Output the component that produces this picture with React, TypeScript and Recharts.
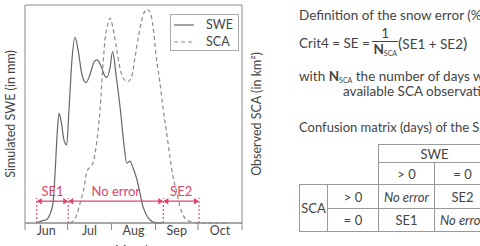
import React from 'react';
import { ComposedChart, Line, XAxis, YAxis, ReferenceLine, ReferenceArea, Legend } from 'recharts';

// ---- data (x = day since 1 June, y = relative value 0..100) ----
const sweDays = [8.3, 12, 15.3, 17.6, 19.7, 21.2, 22.6, 24, 25.4, 27.5, 29.4, 31, 33.1, 35.3, 37.4, 40.2, 43, 45.8, 48.7, 50.8, 53.6, 56.4, 57.8, 59.9, 61.8, 64.2, 67, 69.8, 71.7, 74, 76.2, 79, 83.2, 86, 88.2, 91.7, 97.3];
const sweValues = [0, 1, 1.6, 4, 9, 22.8, 40, 50.3, 47, 38, 35.8, 51.8, 74.8, 85.2, 79.4, 68, 64.4, 68, 73.9, 74.8, 72, 67.4, 66.8, 71, 78.6, 67.9, 53.3, 35.8, 27.4, 28.4, 25.2, 19.7, 7.5, 3.2, 1.4, 0.2, 0];
const scaDays = [32, 36, 38.8, 41.6, 43.5, 45.8, 48, 50, 52.9, 55, 56.4, 58.5, 60, 62, 64.7, 67, 69.1, 72.6, 75.5, 77.6, 80.2, 82.3, 85.8, 88.2, 90.3, 92.4, 95.2, 97.5, 99.9, 102.3, 104.4, 107, 109.3, 111.4, 114, 117.8, 123.4, 144.6];
const scaValues = [0, 3, 9, 16, 23.4, 25.7, 27.5, 34.4, 51.8, 72.5, 84, 91.3, 94, 89.4, 79.4, 71, 66.5, 64.8, 67.9, 76, 86.2, 93, 98, 96.8, 90, 77, 64, 51.8, 41.3, 29.8, 21, 14.2, 7.5, 3.7, 1.4, 0.5, 0.1, 0];

const monthNames = ['Jun', 'Jul', 'Aug', 'Sep', 'Oct'];
const monthStarts = [0, 30, 61, 92, 122, 153];
const monthMids = [15, 45.5, 76.5, 107, 137.5];

const errorBounds = [8.3, 30.5, 97.5, 122.7];
const errorLabels = ['SE1', 'No error', 'SE2'];
const arrowLevel = 10;
const markerTop = 11.5;
const tickDepth = -3.2;

const seriesOrder = ['SWE', 'SCA'];

const sweData = sweDays.map((d, i) => ({ day: d, swe: sweValues[i] }));
const scaData = scaDays.map((d, i) => ({ day: d, sca: scaValues[i] }));

const RED = '#d9486a';
const AXIS = '#8a8a8a';
const TEXT = '#444';
const FONT = 'Lato, "Open Sans", sans-serif';

const makeArrow = (label: string) => (props: any) => {
  const { x1, y1, x2, y2 } = props;
  const h = 3.2;
  const l = 5;
  return (
    <g>
      <line x1={x1 + 1} y1={y1} x2={x2 - 1} y2={y2} stroke={RED} strokeWidth={1.3} />
      <path d={`M${x1},${y1} L${x1 + l},${y1 - h} L${x1 + l},${y1 + h} Z`} fill={RED} />
      <path d={`M${x2},${y2} L${x2 - l},${y2 - h} L${x2 - l},${y2 + h} Z`} fill={RED} />
      <text x={(x1 + x2) / 2} y={y1 - 5} textAnchor="middle" fill={RED} fontSize={13} fontFamily={FONT}>
        {label}
      </text>
    </g>
  );
};

const renderLegend = (props: any) => {
  const payload = [...(props.payload || [])].sort(
    (a: any, b: any) => seriesOrder.indexOf(a.value) - seriesOrder.indexOf(b.value)
  );
  return (
    <div style={{ border: '1px solid #aaa', background: '#fff', padding: '1px 0 1px 3px', boxSizing: 'border-box', width: 69, height: 37 }}>
      {payload.map((entry: any) => (
        <div key={entry.value} style={{ display: 'flex', alignItems: 'center', height: 17 }}>
          <svg width={20} height={8}>
            <line x1={0} y1={4} x2={20} y2={4} stroke={entry.color} strokeWidth={1.2} strokeDasharray={entry.payload?.strokeDasharray} />
          </svg>
          <span style={{ marginLeft: 12, fontSize: 12.5, color: TEXT, fontFamily: FONT }}>{entry.value}</span>
        </div>
      ))}
    </div>
  );
};

const txt: React.CSSProperties = { position: 'absolute', fontFamily: FONT, fontSize: 13.5, color: TEXT, whiteSpace: 'nowrap', lineHeight: '16px' };

const cell: React.CSSProperties = { border: '1px solid #999', textAlign: 'center', padding: 0, fontSize: 13, color: TEXT, fontFamily: FONT, lineHeight: '14px' };

const colWidths = [28, 51, 56, 56];
const rowHeights = [18, 22, 24, 23];

const Sub = () => <span style={{ fontSize: 7, fontWeight: 'normal', position: 'relative', top: 2 }}>SCA</span>;

export default function App() {
  return (
    <div style={{ position: 'absolute', left: 0, top: 0, width: 480, height: 246, overflow: 'hidden', background: '#fff' }}>
      <div style={{ position: 'absolute', left: 0, top: 0 }}>
        <ComposedChart width={270} height={246} margin={{ top: 5, right: 0, bottom: 0, left: 0 }}>
          <XAxis
            type="number"
            dataKey="day"
            domain={[0, 153]}
            ticks={monthMids}
            tickFormatter={(v: number) => monthNames[monthMids.indexOf(v)]}
            height={23}
            stroke={AXIS}
            tickLine={false}
            tickSize={0}
            tickMargin={3}
            tick={{ fontSize: 12.5, fill: TEXT, fontFamily: FONT }}
            label={{ value: 'Month', position: 'insideBottom', offset: -9, fontSize: 12.5, fill: TEXT, fontFamily: FONT }}
          />
          <YAxis
            yAxisId="swe"
            domain={[0, 100]}
            width={25}
            tick={false}
            tickLine={false}
            axisLine={false}
            label={{ value: 'Simulated SWE (in mm)', angle: -90, position: 'center', dx: -2, fontSize: 12.5, fill: TEXT, fontFamily: FONT }}
          />
          <YAxis
            yAxisId="sca"
            orientation="right"
            domain={[0, 100]}
            width={28}
            tick={false}
            tickLine={false}
            axisLine={false}
            label={{ value: 'Observed SCA (in km²)', angle: -90, position: 'center', dx: 1, fontSize: 12.5, fill: TEXT, fontFamily: FONT }}
          />
          <Legend
            layout="vertical"
            align="center"
            verticalAlign="middle"
            content={renderLegend}
            wrapperStyle={{ position: 'absolute', left: 170, top: 14, width: 69, height: 37 }}
          />
          <ReferenceArea yAxisId="swe" x1={0} x2={153} y1={0} y2={100} fill="none" fillOpacity={0} stroke={AXIS} strokeWidth={1} />
          {monthStarts.map((m) => (
            <ReferenceLine
              key={`t${m}`}
              yAxisId="swe"
              segment={[{ x: m, y: 0 }, { x: m, y: tickDepth }]}
              stroke={AXIS}
              strokeWidth={1}
              ifOverflow="visible"
            />
          ))}
          <Line
            yAxisId="swe"
            data={sweData}
            dataKey="swe"
            name="SWE"
            type="monotone"
            stroke="#666"
            strokeWidth={1.2}
            dot={false}
            legendType="plainline"
            isAnimationActive={false}
          />
          <Line
            yAxisId="sca"
            data={scaData}
            dataKey="sca"
            name="SCA"
            type="monotone"
            stroke="#8a8a8a"
            strokeWidth={1.2}
            strokeDasharray="4 3"
            dot={false}
            legendType="plainline"
            isAnimationActive={false}
          />
          {errorBounds.map((b) => (
            <ReferenceLine
              key={`v${b}`}
              yAxisId="swe"
              segment={[{ x: b, y: 0 }, { x: b, y: markerTop }]}
              stroke={RED}
              strokeWidth={1.1}
              strokeDasharray="2 2"
            />
          ))}
          {errorLabels.map((lab, i) => (
            <ReferenceLine
              key={lab}
              yAxisId="swe"
              segment={[{ x: errorBounds[i], y: arrowLevel }, { x: errorBounds[i + 1], y: arrowLevel }]}
              shape={makeArrow(lab)}
            />
          ))}
        </ComposedChart>
      </div>

      <div style={{ ...txt, left: 299, top: 7 }}>Definition of the snow error (%)</div>

      <div style={{ position: 'absolute', left: 299, top: 26, display: 'flex', alignItems: 'center', fontFamily: FONT, fontSize: 13.5, color: TEXT, whiteSpace: 'nowrap' }}>
        <span>Crit4 = SE =&nbsp;</span>
        <span style={{ display: 'inline-flex', flexDirection: 'column', alignItems: 'center' }}>
          <span style={{ lineHeight: '15px', borderBottom: '1px solid #444', padding: '0 1px', width: '100%', textAlign: 'center' }}>1</span>
          <span style={{ lineHeight: '15px' }}>
            <b>N</b>
            <Sub />
          </span>
        </span>
        <span style={{ marginLeft: 1 }}>
          <span style={{ fontSize: 16 }}>(</span>SE1 + SE2<span style={{ fontSize: 16 }}>)</span>
        </span>
      </div>

      <div style={{ ...txt, left: 299, top: 68 }}>
        with <b>N</b>
        <Sub /> the number of days with
      </div>
      <div style={{ ...txt, left: 343, top: 83 }}>available SCA observations</div>

      <div style={{ ...txt, fontSize: 13, left: 299, top: 119 }}>Confusion matrix (days) of the SE</div>

      <table
        style={{ position: 'absolute', left: 299, top: 144, borderCollapse: 'collapse', tableLayout: 'fixed', width: colWidths.reduce((a, b) => a + b, 0) }}
      >
        <colgroup>
          {colWidths.map((w, i) => (
            <col key={i} style={{ width: w }} />
          ))}
        </colgroup>
        <tbody>
          <tr style={{ height: rowHeights[0] }}>
            <td colSpan={2} rowSpan={2} style={{ border: 'none' }} />
            <td colSpan={2} style={cell}>SWE</td>
          </tr>
          <tr style={{ height: rowHeights[1] }}>
            <td style={cell}>&gt; 0</td>
            <td style={cell}>= 0</td>
          </tr>
          <tr style={{ height: rowHeights[2] }}>
            <td rowSpan={2} style={cell}>SCA</td>
            <td style={cell}>&gt; 0</td>
            <td style={{ ...cell, fontStyle: 'italic' }}>No error</td>
            <td style={cell}>SE2</td>
          </tr>
          <tr style={{ height: rowHeights[3] }}>
            <td style={cell}>= 0</td>
            <td style={cell}>SE1</td>
            <td style={{ ...cell, fontStyle: 'italic' }}>No error</td>
          </tr>
        </tbody>
      </table>
    </div>
  );
}
